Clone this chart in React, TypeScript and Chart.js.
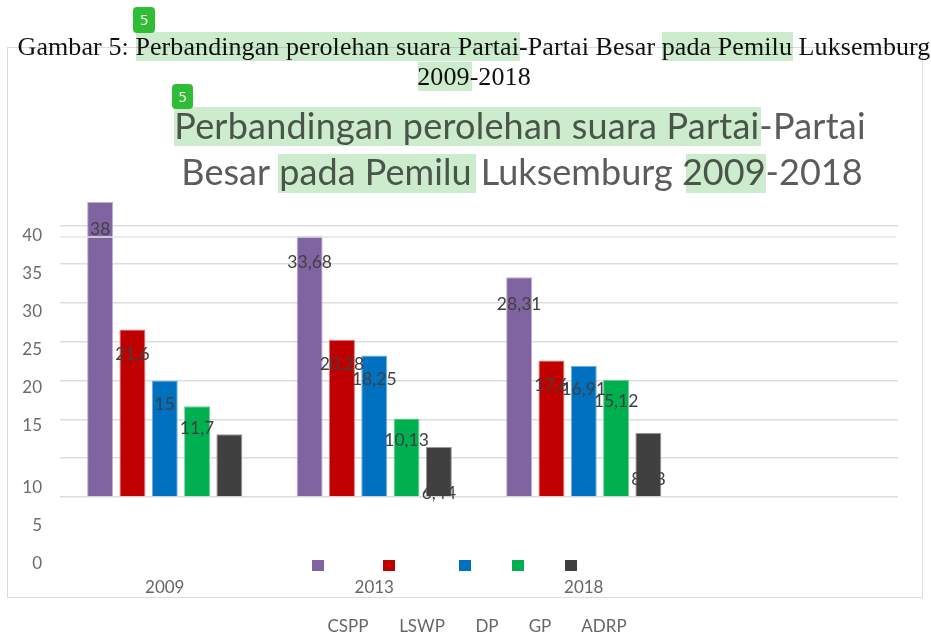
import React, { useEffect, useRef } from "react";
import { Chart, registerables } from "chart.js";

Chart.register(...registerables);

const categories = ["2009", "2013", "2018", ""];
const seriesNames = ["CSPP", "LSWP", "DP", "GP", "ADRP"];
const cspp = [38, 33.68, 28.31, null];
const lswp = [21.6, 20.28, 17.6, null];
const dp = [15, 18.25, 16.91, null];
const gp = [11.7, 10.13, 15.12, null];
const adrp = [8.1, 6.44, 8.28, null];
const seriesValues = [cspp, lswp, dp, gp, adrp];
const gridValues = [0, 5, 10, 15, 20, 25, 30, 35];
const tickLabels = ["0", "5", "10", "15", "20", "25", "30", "35", "40"];
const tickSlots = [0, 5, 10, 18.16, 23.16, 28.16, 33.16, 38.16, 43.16];
const seamValue = 33.5;

const fills = ["#8064A2", "#C00000", "#0070C0", "#00B050", "#404040"];
const edges = ["#bfaed6", "#e07a7a", "#6fb0e0", "#6fd49a", "#9a9a9a"];
const labelDrops = [27, 25, 24, 22, 46.5];
const swatchX = [312, 383, 459, 512, 565];
const legendTextX = [348, 422, 487, 540, 604];

const captionLines = [
  "Gambar 5: Perbandingan perolehan suara Partai-Partai Besar pada Pemilu Luksemburg",
  "2009-2018",
];
const titleLines = [
  "Perbandingan perolehan suara Partai-Partai",
  "Besar pada Pemilu Luksemburg 2009-2018",
];
const titleTracking = ["0.22px", "0.03px"];
const titleCentres = [520, 522];
const highlights = [
  [136, 32, 384, 29],
  [662, 32, 131, 29],
  [418, 62, 54, 29],
  [174, 107, 587, 39],
  [278, 154, 198, 39],
  [686, 154, 80, 39],
];
const badges = [
  [133, 7, 22, 26],
  [172, 84, 21, 25],
];

const SANS = "Lato, 'Open Sans', sans-serif";
const GREY = "#5c5c5c";

const decor = {
  id: "decor",
  afterDatasetsDraw(chart: any) {
    const { ctx, scales } = chart;
    const y = scales.y;
    ctx.save();
    // seam line across the plot
    ctx.strokeStyle = "#e6e6e6";
    ctx.lineWidth = 1.5;
    ctx.beginPath();
    ctx.moveTo(chart.chartArea.left, y.getPixelForValue(seamValue));
    ctx.lineTo(chart.chartArea.right - 2, y.getPixelForValue(seamValue));
    ctx.stroke();

    // value labels
    ctx.font = `17.5px ${SANS}`;
    ctx.fillStyle = "#404040";
    ctx.textAlign = "center";
    ctx.textBaseline = "middle";
    seriesValues.forEach((vals, i) => {
      const meta = chart.getDatasetMeta(i);
      vals.forEach((v, j) => {
        if (v === null) return;
        const el = meta.data[j];
        ctx.fillText(String(v).replace(".", ","), el.x, el.y + labelDrops[i]);
      });
    });

    // chart title
    ctx.font = `36px ${SANS}`;
    ctx.fillStyle = GREY;
    titleLines.forEach((t, i) => {
      ctx.letterSpacing = titleTracking[i];
      ctx.fillText(t, titleCentres[i], 127 + i * 46);
    });
    ctx.letterSpacing = "0px";

    // legend
    ctx.font = `17px ${SANS}`;
    ctx.fillStyle = "#666666";
    seriesNames.forEach((n, i) => {
      ctx.fillText(n, legendTextX[i], 626.5);
    });
    seriesNames.forEach((_, i) => {
      ctx.fillStyle = fills[i];
      ctx.fillRect(swatchX[i], 560, 12, 11);
    });
    ctx.restore();
  },
};

export default function App() {
  const ref = useRef<HTMLCanvasElement>(null);
  useEffect(() => {
    const chart = new Chart(ref.current as HTMLCanvasElement, {
      type: "bar",
      data: {
        labels: categories,
        datasets: seriesNames.map((name, i) => ({
          label: name,
          data: seriesValues[i],
          backgroundColor: fills[i],
          borderColor: edges[i],
          borderWidth: 1,
          yAxisID: "y",
          barPercentage: 0.805,
          categoryPercentage: 0.771,
        })),
      },
      options: {
        responsive: false,
        animation: false,
        layout: { padding: { top: 197, right: 33, left: 0, bottom: 0 } },
        plugins: { legend: { display: false }, title: { display: false }, tooltip: { enabled: false } },
        scales: {
          x: {
            grid: { display: false },
            border: { display: false },
            ticks: { color: "#666666", font: { family: SANS, size: 17 }, padding: 4, maxRotation: 0 },
            afterFit(s: any) {
              s.height = 69;
            },
          },
          y: {
            axis: "y",
            position: "left",
            min: -8.763,
            max: 38.66,
            border: { display: false },
            grid: { color: "#dddddd", lineWidth: 1.5, drawTicks: false },
            ticks: { display: false },
            afterBuildTicks(s: any) {
              s.ticks = gridValues.map((value) => ({ value }));
            },
            afterFit(s: any) {
              s.width = 0;
            },
          },
          y2: {
            axis: "y",
            position: "left",
            min: -0.2,
            max: 48.22,
            border: { display: false },
            grid: { display: false, drawTicks: false },
            ticks: {
              color: "#6b6b6b",
              font: { family: SANS, size: 17 },
              padding: 18,
              autoSkip: false,
              callback(_: any, index: number) {
                return tickLabels[index];
              },
            },
            afterBuildTicks(s: any) {
              s.ticks = tickSlots.map((value) => ({ value }));
            },
            afterFit(s: any) {
              s.width = 60;
            },
          },
        },
      } as any,
      plugins: [decor],
    });
    return () => chart.destroy();
  }, []);

  return (
    <div style={{ position: "absolute", left: 0, top: 0, width: 931, height: 634, overflow: "hidden", background: "#fff" }}>
      <div
        style={{
          position: "absolute",
          left: 7,
          top: 47,
          width: 914,
          height: 549,
          border: "1.5px solid #dcdcdc",
          boxSizing: "content-box",
        }}
      />
      <canvas ref={ref} width={931} height={634} style={{ position: "absolute", left: 0, top: 0, width: 931, height: 634 }} />
      <div
        style={{
          position: "absolute",
          left: -26,
          top: 32,
          width: 1000,
          textAlign: "center",
          fontFamily: "'Liberation Serif', serif",
          fontSize: 26,
          letterSpacing: 0.09,
          lineHeight: "30px",
          color: "#111",
          whiteSpace: "nowrap",
        }}
      >
        {captionLines.map((l) => (
          <div key={l}>{l}</div>
        ))}
      </div>
      {highlights.map(([x, y, w, h], i) => (
        <div
          key={i}
          style={{ position: "absolute", left: x, top: y, width: w, height: h, background: "#cdeccd", mixBlendMode: "multiply" }}
        />
      ))}
      {badges.map(([x, y, w, h], i) => (
        <div
          key={i}
          style={{
            position: "absolute",
            left: x,
            top: y,
            width: w,
            height: h,
            background: "#2fbd35",
            borderRadius: 4,
            color: "#fff",
            fontFamily: "'Open Sans', sans-serif",
            fontSize: 14,
            lineHeight: `${h}px`,
            textAlign: "center",
          }}
        >
          5
        </div>
      ))}
    </div>
  );
}
